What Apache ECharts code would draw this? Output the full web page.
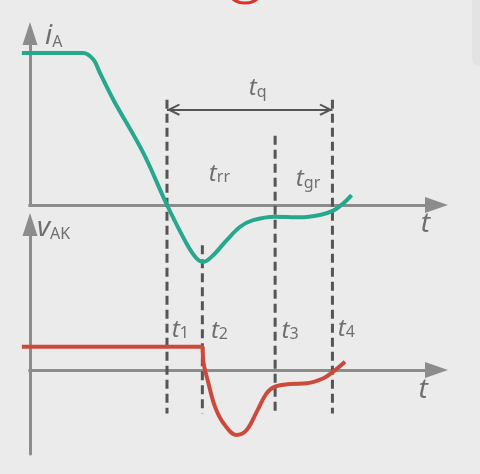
<!DOCTYPE html>
<html><head><meta charset="utf-8">
<script src="https://cdn.jsdelivr.net/npm/echarts@6/dist/echarts.min.js"></script>
<style>html,body{margin:0;padding:0;background:#ebebeb}#c{width:480px;height:474px}</style>
</head><body><div id="c"></div>
<script>
// ---- data (arbitrary time / amplitude units) ----
const tEvents = [3.37, 4.24, 6.03, 7.44];          // t1 .. t4
const eventSubs = ['1', '2', '3', '4'];
// anode current iA (top panel)
const iA_t = [-0.20, 1.31, 1.56, 1.72, 2.05, 2.79, 3.37, 3.85, 4.10, 4.26, 4.51, 4.84, 5.17, 5.49, 6.03, 6.64, 7.13, 7.46, 7.71, 7.91];
const iA_v = [8.87, 8.87, 8.48, 7.70, 6.14, 3.02, 0.00, -2.24, -3.12, -3.32, -2.92, -2.05, -1.27, -0.88, -0.68, -0.72, -0.58, -0.33, 0.10, 0.58];
// anode-cathode voltage vAK (bottom panel)
const vAK_t = [-0.20, 4.25, 4.26, 4.39, 4.55, 4.76, 5.08, 5.33, 5.58, 5.82, 6.03, 6.40, 6.81, 7.22, 7.46, 7.75];
const vAK_v = [1.39, 1.39, 0.60, -0.79, -2.18, -3.17, -3.87, -3.57, -2.48, -1.39, -0.99, -0.83, -0.79, -0.49, -0.10, 0.49];
// dashed marker extents (top-panel units)
const dashTop = [6.14, -2.34, 4.04, 6.14];
const dashBottom = -12.16;
const tqLevel = 5.56;
// annotation texts: [panel, t, y, main, sub, kind]
const annTexts = [
  [0, 0.37, 9.90, 'i', 'A', 'axis'],
  [1, 0.17, 8.50, 'v', 'AK', 'axis'],
  [0, 9.61, -1.05, 't', '', 'axis'],
  [1, 9.56, -1.13, 't', '', 'axis'],
  [0, 5.38, 6.85, 't', 'q', 'ev'],
  [0, 4.40, 1.87, 't', 'rr', 'ev'],
  [0, 6.54, 1.55, 't', 'gr', 'ev'],
  [1, 3.49, 2.45, 't', eventSubs[0], 'ev'],
  [1, 4.45, 2.40, 't', eventSubs[1], 'ev'],
  [1, 6.19, 2.40, 't', eventSubs[2], 'ev'],
  [1, 7.57, 2.52, 't', eventSubs[3], 'ev']
];
const tMin = -0.20, tMax = 10;

// ---- chart ----
const grey = '#8c8c8c', dark = '#505050', teal = '#27a88c', red = '#cb4a3b', bg = '#ebebeb';
const zip = (a, b) => a.map((v, i) => [v, b[i]]);
const axisBase = { type: 'value', splitLine: { show: false }, axisTick: { show: false }, axisLabel: { show: false } };
const arrowLine = size => ({ show: true, onZero: true, symbol: ['none', 'triangle'], symbolSize: size, lineStyle: { color: grey, width: 3 } });
const chev = 'path://M6,12.5 L12,24.5 L10.4,25.6 L6,17 L1.6,25.6 L0,24.5 Z M6,0 L6.2,0 L6,0.2 Z';
const FONT = 'Noto Sans';

const iAdata = zip(iA_t, iA_v);
const vAKdata = zip(vAK_t, vAK_v);

const series = [];
tEvents.forEach((t, i) => series.push({
  type: 'line', xAxisIndex: 0, yAxisIndex: 0, clip: false, symbol: 'none', silent: true, z: 3,
  data: [[t, dashTop[i]], [t, dashBottom]],
  lineStyle: { color: '#555', width: 3, type: [9, 5] }
}));
series.push({
  type: 'line', xAxisIndex: 0, yAxisIndex: 0, clip: false, symbol: 'none', smooth: 0.35, z: 4,
  data: iAdata, lineStyle: { color: teal, width: 4 },
  markLine: {
    silent: true, symbol: [chev, chev], symbolSize: [12, 26], label: { show: false },
    lineStyle: { color: '#555', width: 2, type: 'solid' },
    data: [[{ coord: [tEvents[0], tqLevel] }, { coord: [tEvents[3], tqLevel] }]]
  }
});
series.push({
  type: 'line', xAxisIndex: 1, yAxisIndex: 1, clip: false, symbol: 'none', z: 4,
  data: vAKdata.slice(0, 2), lineStyle: { color: red, width: 4 }
});
series.push({
  type: 'line', xAxisIndex: 1, yAxisIndex: 1, clip: false, symbol: 'none', smooth: 0.35, z: 4,
  data: vAKdata.slice(1), lineStyle: { color: red, width: 4 }
});
const rich = {
  axis: { fontFamily: FONT, fontStyle: 'italic', fontSize: 28, lineHeight: 30, color: dark, verticalAlign: 'bottom' },
  ev: { fontFamily: FONT, fontStyle: 'italic', fontSize: 24, lineHeight: 26, color: dark, verticalAlign: 'bottom' },
  sub: { fontFamily: FONT, fontSize: 16, lineHeight: 11, color: dark, verticalAlign: 'bottom' }
};
[0, 1].forEach(g => series.push({
  type: 'scatter', xAxisIndex: g, yAxisIndex: g, symbolSize: 0, clip: false, silent: true, z: 6,
  data: annTexts.filter(a => a[0] === g).map(a => ({
    value: [a[1], a[2]],
    label: { formatter: '{' + a[5] + '|' + a[3] + '}' + (a[4] ? '{sub|' + a[4] + '}' : '') }
  })),
  label: { show: true, position: 'right', distance: 0, rich: rich }
}));

const chart = echarts.init(document.getElementById('c'));
chart.setOption({
  backgroundColor: bg,
  animation: false,
  grid: [
    { left: 21.87, right: 43.5, top: 33.5, bottom: 269 },
    { left: 21.87, right: 43.5, top: 224.5, bottom: 20 }
  ],
  xAxis: [
    Object.assign({}, axisBase, { gridIndex: 0, min: tMin, max: tMax, axisLine: arrowLine([16, 23]) }),
    Object.assign({}, axisBase, { gridIndex: 1, min: tMin, max: tMax, axisLine: arrowLine([16, 23]) })
  ],
  yAxis: [
    Object.assign({}, axisBase, { gridIndex: 0, min: 0, max: 10, axisLine: arrowLine([15, 23]) }),
    Object.assign({}, axisBase, { gridIndex: 1, min: -5, max: 8.66, axisLine: arrowLine([15, 23]) })
  ],
  graphic: [
    // mask the bit of horizontal axis that sticks out left of the vertical axes
    { type: 'rect', z: 100, shape: { x: 18, y: 202, width: 10.4, height: 6 }, style: { fill: bg }, silent: true },
    { type: 'rect', z: 100, shape: { x: 18, y: 367, width: 10.4, height: 6 }, style: { fill: bg }, silent: true },
    { type: 'rect', shape: { x: 472, y: -20, width: 24, height: 86, r: 8 }, style: { fill: '#e3e3e3' }, silent: true },
    { type: 'ellipse', shape: { cx: 245, cy: -12, rx: 18, ry: 15 }, style: { fill: 'none', stroke: '#d9342b', lineWidth: 3 }, silent: true }
  ],
  series: series
});
</script>
</body></html>
